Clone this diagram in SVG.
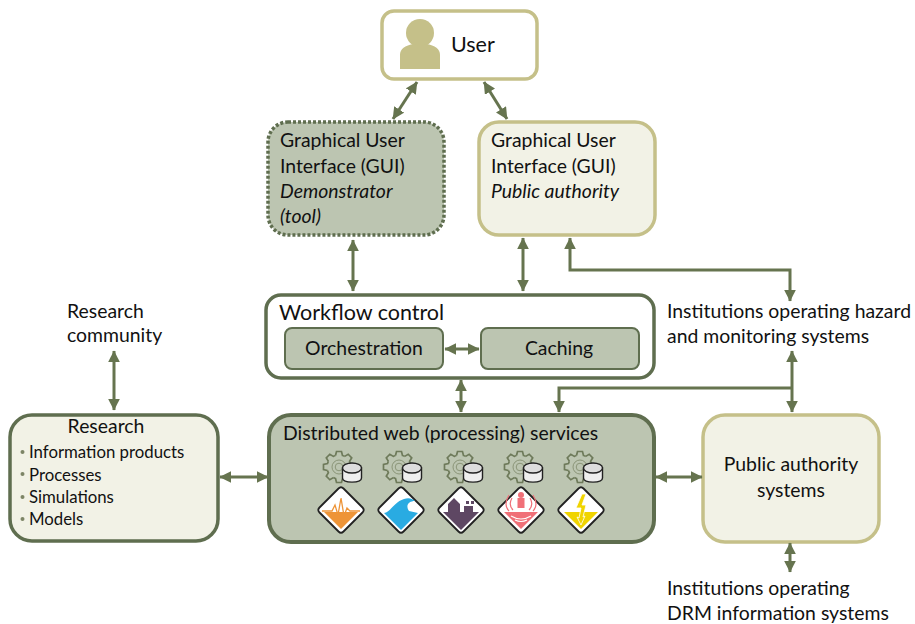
<svg xmlns="http://www.w3.org/2000/svg" width="915" height="624" viewBox="0 0 915 624">
<style>
text{font-family:"Lato","Open Sans","Liberation Sans",sans-serif;fill:#111;font-size:19.400px}
.s{font-size:16.800px}
.c{stroke:#66744f;stroke-width:3;fill:none;marker-start:url(#a);marker-end:url(#a)}
.c1{stroke:#66744f;stroke-width:3;fill:none;marker-end:url(#a)}
.y{stroke:#c5c089;stroke-width:3.500}
.g{stroke:#5f6e4f;stroke-width:3.500}
.dot{fill:#7d8566}
</style>
<defs>
<marker id="a" viewBox="0 0 10 10" refX="9.500" refY="5" markerWidth="4" markerHeight="4" markerUnits="strokeWidth" orient="auto-start-reverse"><path d="M0 0L10 5L0 10Z" fill="#66744f"/></marker>
<path id="tooth" d="M-3.500 -11.500L-2.500 -15.500H2.500L3.500 -11.500A12 12 0 0 1 5.660 -10.600" fill="none" stroke="#6e7a5a" stroke-width="1.700"/>
<g id="gear">
<use href="#tooth"/><use href="#tooth" transform="rotate(45)"/><use href="#tooth" transform="rotate(90)"/><use href="#tooth" transform="rotate(135)"/><use href="#tooth" transform="rotate(180)"/><use href="#tooth" transform="rotate(225)"/><use href="#tooth" transform="rotate(270)"/><use href="#tooth" transform="rotate(315)"/>
<circle cx="0" cy="0" r="7" fill="none" stroke="#8b9578" stroke-width="1"/>
<circle cx="0" cy="0" r="3.800" fill="none" stroke="#8b9578" stroke-width="1"/>
<path d="M3.500 1V11C3.500 16.500 22.500 16.500 22.500 11V1Z" fill="#eee" stroke="#222" stroke-width="1.400"/>
<ellipse cx="13" cy="1" rx="9.500" ry="5" fill="#ddd" stroke="#222" stroke-width="1.400"/>
</g>
<path id="dia" d="M-2.500 -21.500Q0 -24 2.500 -21.500L21.500 -2.500Q24 0 21.500 2.500L2.500 21.500Q0 24 -2.500 21.500L-21.500 2.500Q-24 0 -21.500 -2.500Z" fill="#fff" stroke="#222" stroke-width="1.800"/>
</defs>
<g id="user">
<rect class="y" x="382" y="11" width="155" height="68" rx="12" fill="#fff"/>
<circle cx="420" cy="33" r="14" fill="#c5c089"/>
<path d="M400 69V55Q400 46 414 44Q420 48 426 44Q440 46 440 55V69Z" fill="#c5c089"/>
<text x="451" y="52" style="font-size:21.500px">User</text>
</g>
<g id="gui-demonstrator">
<rect x="268" y="122" width="176" height="113" rx="20" fill="#bcc5b1" stroke="#5f6e4f" stroke-width="3.500" stroke-dasharray="3 2"/>
<text x="280" y="147">Graphical User</text>
<text x="280" y="173">Interface (GUI)</text>
<text x="280" y="198" font-style="italic">Demonstrator</text>
<text x="280" y="223" font-style="italic">(tool)</text>
</g>
<g id="gui-public">
<rect class="y" x="479" y="122" width="176" height="113" rx="20" fill="#f2f2e6"/>
<text x="491" y="147">Graphical User</text>
<text x="491" y="173">Interface (GUI)</text>
<text x="491" y="198" font-style="italic">Public authority</text>
</g>
<g id="workflow">
<rect class="g" x="266" y="295" width="388" height="83" rx="15" fill="#fff"/>
<text x="279" y="320" style="font-size:21.500px">Workflow control</text>
</g>
<g id="orchestration">
<rect x="285" y="328" width="158" height="41" rx="7" fill="#bcc5b1" stroke="#5f6e4f" stroke-width="2"/>
<text x="364" y="355" text-anchor="middle">Orchestration</text>
</g>
<g id="caching">
<rect x="481" y="328" width="158" height="41" rx="7" fill="#bcc5b1" stroke="#5f6e4f" stroke-width="2"/>
<text x="559" y="355" text-anchor="middle">Caching</text>
</g>
<g id="research-community">
<text x="67" y="318">Research</text>
<text x="67" y="342">community</text>
</g>
<g id="institutions-hazard">
<text x="667" y="318">Institutions operating hazard</text>
<text x="667" y="343">and monitoring systems</text>
</g>
<g id="research">
<rect class="g" x="10" y="415" width="208" height="126" rx="22" fill="#f2f2e6"/>
<text x="106" y="433" text-anchor="middle">Research</text>
<circle class="dot" cx="22.500" cy="452" r="2"/><circle class="dot" cx="22.500" cy="474" r="2"/><circle class="dot" cx="22.500" cy="497" r="2"/><circle class="dot" cx="22.500" cy="519" r="2"/>
<text class="s" x="29" y="458">Information products</text>
<text class="s" x="29" y="481">Processes</text>
<text class="s" x="29" y="503">Simulations</text>
<text class="s" x="29" y="525">Models</text>
</g>
<g id="services">
<rect x="269" y="415" width="385" height="127" rx="22" fill="#bcc5b1" stroke="#5f6e4f" stroke-width="4"/>
<text x="283" y="440">Distributed web (processing) services</text>
<use href="#gear" x="339" y="467"/><use href="#gear" x="399" y="467"/><use href="#gear" x="460" y="467"/><use href="#gear" x="520" y="467"/><use href="#gear" x="580" y="467"/>
<g transform="translate(341 510)"><use href="#dia"/><path d="M-17 2H17L0 19Z" fill="#ee9437"/><path d="M-19 1H-9L-6 -5L-3 5L0 -12L3 6L6 -2L9 1H19" fill="none" stroke="#ee9437" stroke-width="1.300"/></g>
<g transform="translate(401 510)"><use href="#dia"/><path d="M-17 3C-10 2 -7 -8 3 -11C8 -13 12 -11 14 -9C8 -9 4 -5 8 1L17 3L0 20Z" fill="#29abe2"/></g>
<g transform="translate(461 510)"><use href="#dia"/><path d="M-18 2H18L0 20Z" fill="#5e4763"/><path d="M-13 2V-6L-7 -12L-1 -6V2ZM3 2V-4H12V2ZM5 -9h3v3h-3zM10 -9h3v3h-3z" fill="#5e4763"/></g>
<g transform="translate(521 510)"><use href="#dia"/><path d="M-17 2H17L0 19Z" fill="#f07078"/><rect x="-3.500" y="-12" width="7" height="10" fill="#f07078"/><circle cx="0" cy="-15" r="3" fill="#f07078"/><path d="M-9 -12Q-13 -5 -8 0M-12 -15Q-18 -5 -12 1M9 -12Q13 -5 8 0M12 -15Q18 -5 12 1" fill="none" stroke="#f07078" stroke-width="1.200"/><path d="M-10 6Q0 12 10 6M-6 10Q0 13 6 10" fill="none" stroke="#fff" stroke-width="1.200"/></g>
<g transform="translate(581 510)"><use href="#dia"/><path d="M-17 2H17L0 19Z" fill="#f0d400"/><path d="M1 -16L-5 -2H0L-2 8L-4 7L0 15L4 6L2 7L5 -5H1L5 -16Z" fill="#f0d400" stroke="#fff" stroke-width=".8"/></g>
</g>
<g id="public-authority">
<rect class="y" x="703" y="415" width="176" height="127" rx="22" fill="#f2f2e6"/>
<text x="791" y="471" text-anchor="middle">Public authority</text>
<text x="791" y="497" text-anchor="middle">systems</text>
</g>
<g id="institutions-drm">
<text x="667" y="595">Institutions operating</text>
<text x="667" y="620">DRM information systems</text>
</g>
<g id="connectors">
<path class="c" d="M393 119L417 82"/>
<path class="c" d="M507 119L484 82"/>
<path class="c" d="M353 291V240"/>
<path class="c" d="M523 291V238"/>
<path class="c" d="M790 301V270H570V238"/>
<path class="c" d="M445 349H479"/>
<path class="c" d="M461 412V380"/>
<path class="c" d="M114 410V351"/>
<path class="c" d="M220 477H268"/>
<path class="c" d="M656 477H702"/>
<path class="c" d="M792 412V351"/>
<path class="c1" d="M792 388H559V412"/>
<path class="c" d="M790 572V543"/>
</g>
</svg>
